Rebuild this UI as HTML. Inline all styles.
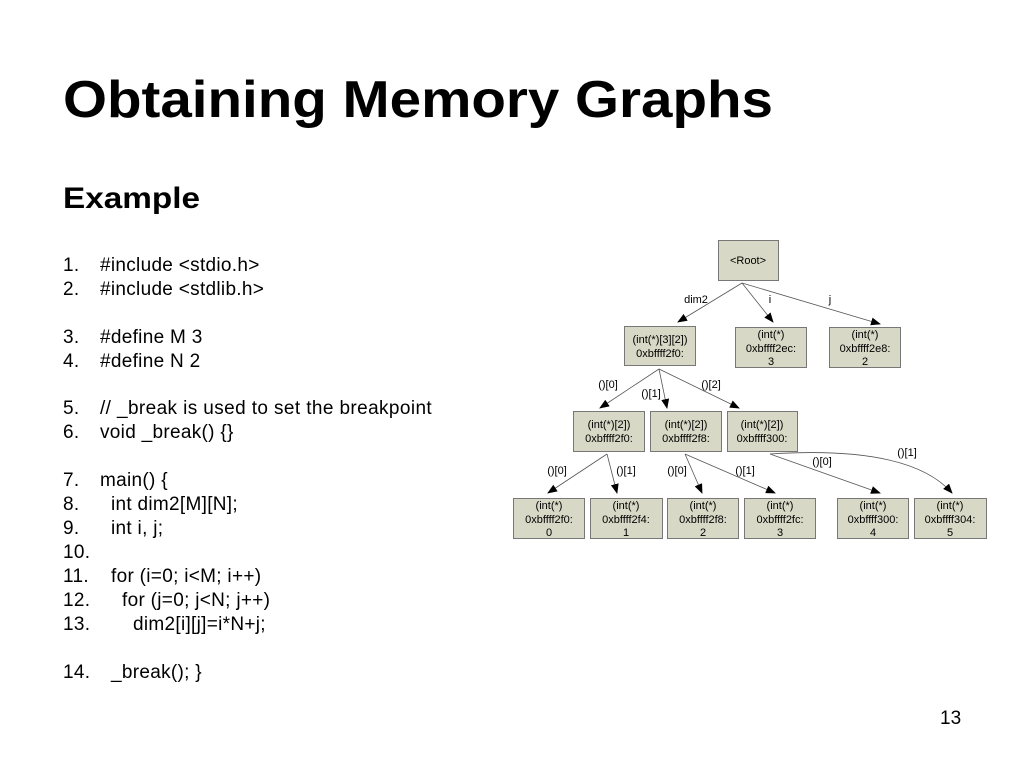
<!DOCTYPE html>
<html><head><meta charset="utf-8"><style>
html,body{margin:0;padding:0;background:#fff;}
svg{display:block;}
text{font-family:"Liberation Sans",Arial,sans-serif;}
</style></head><body>
<svg width="1024" height="768" viewBox="0 0 1024 768" xmlns="http://www.w3.org/2000/svg">
<defs><marker id="a" markerWidth="10" markerHeight="8" refX="9" refY="4" orient="auto" markerUnits="userSpaceOnUse"><path d="M0,0 L10,4 L0,8 z" fill="#000"/></marker></defs>
<text x="63" y="117" font-size="52" font-weight="bold" textLength="710" lengthAdjust="spacingAndGlyphs">Obtaining Memory Graphs</text>
<text x="63" y="208" font-size="30" font-weight="bold" textLength="137" lengthAdjust="spacingAndGlyphs">Example</text>
<g font-size="19" fill="#000" letter-spacing="0.3">
<text x="63" y="271">1.</text><text x="100" y="271">#include &lt;stdio.h&gt;</text>
<text x="63" y="295">2.</text><text x="100" y="295">#include &lt;stdlib.h&gt;</text>
<text x="63" y="343">3.</text><text x="100" y="343">#define M 3</text>
<text x="63" y="367">4.</text><text x="100" y="367">#define N 2</text>
<text x="63" y="414">5.</text><text x="100" y="414" textLength="332" lengthAdjust="spacing">// _break is used to set the breakpoint</text>
<text x="63" y="438">6.</text><text x="100" y="438">void _break() {}</text>
<text x="63" y="486">7.</text><text x="100" y="486">main() {</text>
<text x="63" y="510">8.</text><text x="111" y="510">int dim2[M][N];</text>
<text x="63" y="534">9.</text><text x="111" y="534">int i, j;</text>
<text x="63" y="558">10.</text>
<text x="63" y="582">11.</text><text x="111" y="582">for (i=0; i&lt;M; i++)</text>
<text x="63" y="606">12.</text><text x="122" y="606">for (j=0; j&lt;N; j++)</text>
<text x="63" y="630">13.</text><text x="133" y="630">dim2[i][j]=i*N+j;</text>
<text x="63" y="678">14.</text><text x="111" y="678">_break(); }</text>
</g>
<text x="940" y="724" font-size="19">13</text>
<g fill="#d8d8c6" stroke="#777" stroke-width="1">
<rect x="718.5" y="240.5" width="60" height="40"/>
<rect x="624.5" y="326.5" width="71" height="39"/>
<rect x="735.5" y="327.5" width="71" height="40"/>
<rect x="829.5" y="327.5" width="71" height="40"/>
<rect x="573.5" y="411.5" width="71" height="40"/>
<rect x="650.5" y="411.5" width="71" height="40"/>
<rect x="727.5" y="411.5" width="70" height="40"/>
<rect x="513.5" y="498.5" width="71" height="40"/>
<rect x="590.5" y="498.5" width="72" height="40"/>
<rect x="667.5" y="498.5" width="71" height="40"/>
<rect x="744.5" y="498.5" width="71" height="40"/>
<rect x="837.5" y="498.5" width="71" height="40"/>
<rect x="914.5" y="498.5" width="72" height="40"/>
</g>
<g stroke="#555" stroke-width="0.8" fill="none" marker-end="url(#a)">
<line x1="742" y1="283" x2="678" y2="322"/>
<line x1="742" y1="283" x2="773" y2="322"/>
<line x1="742" y1="283" x2="880" y2="324"/>
<line x1="659" y1="369" x2="600" y2="408"/>
<line x1="659" y1="369" x2="667" y2="408"/>
<line x1="659" y1="369" x2="739" y2="408"/>
<line x1="607" y1="454" x2="548" y2="493"/>
<line x1="607" y1="454" x2="617" y2="493"/>
<line x1="685" y1="454" x2="702" y2="493"/>
<line x1="685" y1="454" x2="775" y2="493"/>
<line x1="770" y1="454" x2="880" y2="493"/>
<path d="M770,454 Q910,445 952,493"/>
</g>
<g font-size="11" text-anchor="middle" fill="#000">
<text x="748" y="264">&lt;Root&gt;</text>
<text x="696" y="303">dim2</text><text x="770" y="303">i</text><text x="830" y="303">j</text>
<text x="660" y="343">(int(*)[3][2])</text><text x="660" y="357">0xbffff2f0:</text>
<text x="771" y="338">(int(*)</text><text x="771" y="352">0xbffff2ec:</text><text x="771" y="365">3</text>
<text x="865" y="338">(int(*)</text><text x="865" y="352">0xbffff2e8:</text><text x="865" y="365">2</text>
<text x="608" y="388">()[0]</text><text x="651" y="397">()[1]</text><text x="711" y="388">()[2]</text>
<text x="609" y="428">(int(*)[2])</text><text x="609" y="442">0xbffff2f0:</text>
<text x="686" y="428">(int(*)[2])</text><text x="686" y="442">0xbffff2f8:</text>
<text x="762" y="428">(int(*)[2])</text><text x="762" y="442">0xbffff300:</text>
<text x="557" y="474">()[0]</text><text x="626" y="474">()[1]</text>
<text x="677" y="474">()[0]</text><text x="745" y="474">()[1]</text>
<text x="822" y="465">()[0]</text><text x="907" y="456">()[1]</text>
<text x="549" y="509">(int(*)</text><text x="549" y="523">0xbffff2f0:</text><text x="549" y="536">0</text>
<text x="626" y="509">(int(*)</text><text x="626" y="523">0xbffff2f4:</text><text x="626" y="536">1</text>
<text x="703" y="509">(int(*)</text><text x="703" y="523">0xbffff2f8:</text><text x="703" y="536">2</text>
<text x="780" y="509">(int(*)</text><text x="780" y="523">0xbffff2fc:</text><text x="780" y="536">3</text>
<text x="873" y="509">(int(*)</text><text x="873" y="523">0xbffff300:</text><text x="873" y="536">4</text>
<text x="950" y="509">(int(*)</text><text x="950" y="523">0xbffff304:</text><text x="950" y="536">5</text>
</g>
</svg>
</body></html>
